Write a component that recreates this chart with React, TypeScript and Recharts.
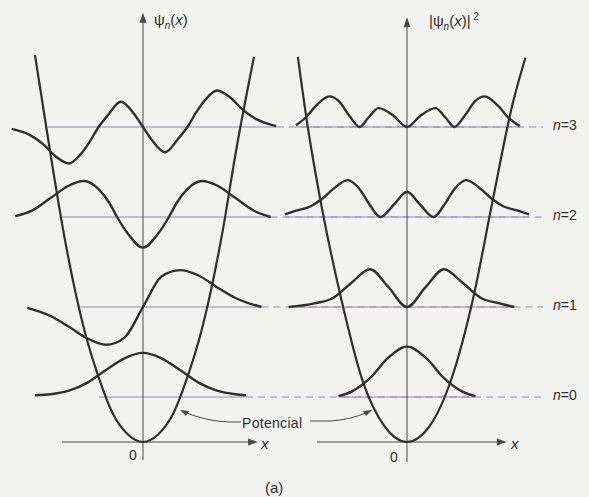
import React from 'react';
import { LineChart, Line, XAxis, YAxis, ReferenceDot } from 'recharts';

// ---- energy levels (units of hbar*omega) ----
const levels = [0.5, 1.5, 2.5, 3.5];
const levelLabels = ['0', '1', '2', '3'];

// ---- left panel: psi_n(x) (x in oscillator units, value in hbar*omega units) ----
const psi0X = [-2.92, -2.5, -2.0, -1.5, -1.0, -0.5, 0, 0.5, 1.0, 1.5, 2.0, 2.5, 2.78];
const psi0V = [0.02, 0.03, 0.07, 0.16, 0.3, 0.43, 0.49, 0.43, 0.3, 0.16, 0.07, 0.03, 0.02];

const psi1X = [-3.13, -2.5, -2.0, -1.5, -1.0, -0.5, 0, 0.5, 1.0, 1.5, 2.0, 2.5, 3.2];
const psi1V = [-0.01, -0.1, -0.22, -0.35, -0.42, -0.34, 0, 0.34, 0.41, 0.35, 0.22, 0.1, 0.0];

const psi2X = [-3.45, -3.0, -2.5, -2.0, -1.6, -1.2, -0.9, -0.7, -0.4, 0, 0.4, 0.7, 0.9, 1.2, 1.6, 2.0, 2.5, 3.0, 3.45];
const psi2V = [0.01, 0.07, 0.21, 0.35, 0.4, 0.31, 0.15, 0.0, -0.19, -0.34, -0.19, 0.0, 0.15, 0.31, 0.4, 0.35, 0.21, 0.07, 0.0];

const psi3X = [-3.55, -3.05, -2.7, -2.35, -2.0, -1.7, -1.45, -1.2, -0.95, -0.6, -0.25, 0, 0.25, 0.6, 0.95, 1.2, 1.45, 1.7, 2.0, 2.35, 2.7, 3.05, 3.6];
const psi3V = [-0.02, -0.09, -0.19, -0.33, -0.405, -0.31, -0.17, 0, 0.13, 0.28, 0.15, 0, -0.15, -0.28, -0.13, 0, 0.17, 0.31, 0.405, 0.33, 0.19, 0.09, 0.01];

// ---- right panel: |psi_n(x)|^2 ----
const prob0X = [-1.85, -1.5, -1.0, -0.5, 0, 0.5, 1.0, 1.5, 1.85];
const prob0V = [0.01, 0.06, 0.21, 0.44, 0.56, 0.44, 0.21, 0.06, 0.01];

const prob1X = [-3.2, -2.5, -2.0, -1.5, -1.0, -0.5, 0, 0.5, 1.0, 1.5, 2.0, 2.5, 2.9];
const prob1V = [0.0, 0.04, 0.1, 0.27, 0.42, 0.22, 0, 0.22, 0.42, 0.27, 0.1, 0.04, 0.0];

const prob2X = [-3.3, -3.0, -2.6, -2.3, -2.0, -1.6, -1.3, -1.0, -0.72, -0.35, 0, 0.35, 0.72, 1.0, 1.3, 1.6, 2.0, 2.3, 2.6, 3.0, 3.3];
const prob2V = [0.03, 0.07, 0.12, 0.2, 0.31, 0.41, 0.32, 0.13, 0, 0.14, 0.28, 0.14, 0, 0.13, 0.32, 0.41, 0.31, 0.2, 0.12, 0.07, 0.03];

const prob3X = [-3.0, -2.75, -2.45, -2.1, -1.85, -1.55, -1.28, -1.05, -0.77, -0.35, 0, 0.35, 0.77, 1.05, 1.28, 1.55, 1.85, 2.1, 2.45, 2.75, 3.05];
const prob3V = [0.02, 0.1, 0.24, 0.34, 0.29, 0.12, 0, 0.1, 0.21, 0.12, 0, 0.12, 0.21, 0.1, 0, 0.12, 0.29, 0.34, 0.24, 0.1, 0.01];

// ---- potentials ----
const potLX = [-2.92, -2.5, -2.16, -1.57, -1.24, -0.81, -0.4, 0, 0.4, 0.81, 1.24, 1.57, 2.16, 2.5, 3.0];
const potLV = [4.3, 3.2, 2.36, 1.22, 0.77, 0.31, 0.08, 0, 0.08, 0.31, 0.77, 1.22, 2.36, 3.2, 4.28];
const potRX = [-2.95, -2.7, -2.3, -1.8, -1.2, -0.6, 0, 0.6, 1.2, 1.8, 2.3, 2.85, 3.2];
const potRV = [4.28, 3.55, 2.6, 1.63, 0.68, 0.17, 0, 0.17, 0.7, 1.62, 2.65, 3.75, 4.27];

// ---- level-line extents (local x) ----
const leftSolidStart = [-1.2, -1.7, -2.19, -2.57];
const leftCurveEnd = [2.78, 3.2, 3.45, 3.62];
const rightCurveStart = [-1.85, -3.2, -3.3, -3.0];
const rightCurveEnd = [1.85, 2.9, 3.3, 3.05];
const labelStart = 10.81;

// ---- layout ----
const PXU = 37; // px per x unit
const CHART_W = 589;
const CHART_H = 495;
const LEFT_AXIS_PX = 143;
const RIGHT_OFFSET = (407 - 143) / PXU;
const X_DOMAIN: [number, number] = [-LEFT_AXIS_PX / PXU, (CHART_W - LEFT_AXIS_PX) / PXU];
const Y_DOMAIN: [number, number] = [-0.6, 4.9];

const INK = '#2f2f2f';
const AXIS = '#4a4a4a';
const LEVEL = '#948aa8';
const FONT = '"Liberation Sans", Arial, sans-serif';

type Pt = { x: number; y: number };
const series = (xs: number[], vs: number[], base: number, off = 0): Pt[] =>
  xs.map((x, i) => ({ x: x + off, y: base + vs[i] }));
const seg = (x1: number, x2: number, y1: number, y2: number = y1): Pt[] => [
  { x: x1, y: y1 },
  { x: x2, y: y2 },
];

const leftCurves = [
  series(psi0X, psi0V, levels[0]),
  series(psi1X, psi1V, levels[1]),
  series(psi2X, psi2V, levels[2]),
  series(psi3X, psi3V, levels[3]),
];
const rightCurves = [
  series(prob0X, prob0V, levels[0], RIGHT_OFFSET),
  series(prob1X, prob1V, levels[1], RIGHT_OFFSET),
  series(prob2X, prob2V, levels[2], RIGHT_OFFSET),
  series(prob3X, prob3V, levels[3], RIGHT_OFFSET),
];

const UpArrow = (p: any) => (
  <polygon
    points={`${p.cx},${p.cy} ${p.cx - 3.5},${p.cy + 10} ${p.cx + 3.5},${p.cy + 10}`}
    fill={AXIS}
  />
);
const RightArrow = (p: any) => (
  <polygon
    points={`${p.cx},${p.cy} ${p.cx - 10},${p.cy - 3.5} ${p.cx - 10},${p.cy + 3.5}`}
    fill={AXIS}
  />
);

const lineProps = {
  dataKey: 'y',
  dot: false,
  activeDot: false,
  isAnimationActive: false,
  legendType: 'none' as const,
};

const txt = (style: React.CSSProperties): React.CSSProperties => ({
  position: 'absolute',
  fontFamily: FONT,
  color: '#2e2e2e',
  lineHeight: 1,
  whiteSpace: 'nowrap',
  ...style,
});

export default function App() {
  return (
    <div
      style={{
        position: 'absolute',
        left: 0,
        top: 0,
        width: 589,
        height: 497,
        background: '#f2f2f0',
        overflow: 'hidden',
      }}
    >
      <div style={{ position: 'absolute', left: 0, top: 1 }}>
        <LineChart width={CHART_W} height={CHART_H} margin={{ top: 0, right: 0, bottom: 0, left: 0 }}>
          <XAxis type="number" dataKey="x" domain={X_DOMAIN} hide allowDataOverflow />
          <YAxis type="number" dataKey="y" domain={Y_DOMAIN} hide allowDataOverflow />

          {/* level lines */}
          {levels.map((lv, i) => (
            <Line
              key={`dash${i}`}
              {...lineProps}
              type="linear"
              data={seg(leftCurveEnd[i], labelStart, lv)}
              stroke={LEVEL}
              strokeWidth={1}
              strokeDasharray="7 5"
            />
          ))}
          {levels.map((lv, i) => (
            <Line
              key={`lsolid${i}`}
              {...lineProps}
              type="linear"
              data={seg(leftSolidStart[i], leftCurveEnd[i], lv)}
              stroke={LEVEL}
              strokeWidth={1}
            />
          ))}
          {levels.map((lv, i) => (
            <Line
              key={`rsolid${i}`}
              {...lineProps}
              type="linear"
              data={seg(rightCurveStart[i] + RIGHT_OFFSET, rightCurveEnd[i] + RIGHT_OFFSET, lv)}
              stroke={LEVEL}
              strokeWidth={1}
            />
          ))}

          {/* axes */}
          <Line key="lyax" {...lineProps} type="linear" data={seg(0, 0, -0.2, 4.7)} stroke={AXIS} strokeWidth={1} />
          <Line key="lxax" {...lineProps} type="linear" data={seg(-2.19, 3.05, 0)} stroke={AXIS} strokeWidth={1} />
          <Line
            key="ryax"
            {...lineProps}
            type="linear"
            data={seg(RIGHT_OFFSET, RIGHT_OFFSET, -0.22, 4.65)}
            stroke={AXIS}
            strokeWidth={1}
          />
          <Line
            key="rxax"
            {...lineProps}
            type="linear"
            data={seg(-2.43 + RIGHT_OFFSET, 2.64 + RIGHT_OFFSET, 0)}
            stroke={AXIS}
            strokeWidth={1}
          />

          {/* potentials */}
          <Line key="potL" {...lineProps} type="monotone" data={series(potLX, potLV, 0)} stroke={INK} strokeWidth={2.2} />
          <Line
            key="potR"
            {...lineProps}
            type="monotone"
            data={series(potRX, potRV, 0, RIGHT_OFFSET)}
            stroke={INK}
            strokeWidth={2.2}
          />

          {/* wavefunctions */}
          {leftCurves.map((d, i) => (
            <Line key={`psi${i}`} {...lineProps} type="monotone" data={d} stroke={INK} strokeWidth={2.4} />
          ))}
          {rightCurves.map((d, i) => (
            <Line key={`prob${i}`} {...lineProps} type="monotone" data={d} stroke={INK} strokeWidth={2.4} />
          ))}

          <ReferenceDot x={0} y={4.77} r={0} shape={UpArrow} ifOverflow="visible" />
          <ReferenceDot x={3.11} y={0} r={0} shape={RightArrow} ifOverflow="visible" />
          <ReferenceDot x={RIGHT_OFFSET} y={4.72} r={0} shape={UpArrow} ifOverflow="visible" />
          <ReferenceDot x={2.7 + RIGHT_OFFSET} y={0} r={0} shape={RightArrow} ifOverflow="visible" />
        </LineChart>
      </div>

      {/* Potencial leader arrows */}
      <svg width={589} height={497} style={{ position: 'absolute', left: 0, top: 0, pointerEvents: 'none' }}>
        <path d="M 241 422 L 228 422 Q 206 421 184 412" fill="none" stroke={AXIS} strokeWidth={1} />
        <polygon points="180,410 189,411 186,416" fill={AXIS} />
        <path d="M 310 421 L 330 421 Q 350 420 368 412" fill="none" stroke={AXIS} strokeWidth={1} />
        <polygon points="372,410 363,411 366,416" fill={AXIS} />
      </svg>

      {/* texts */}
      <div style={txt({ left: 154, top: 12, fontSize: 15 })}>
        ψ<sub style={{ fontSize: 10, verticalAlign: 'sub', fontStyle: 'italic' }}>n</sub>(<i>x</i>)
      </div>
      <div style={txt({ left: 429, top: 12, fontSize: 15 })}>
        |ψ<sub style={{ fontSize: 10, verticalAlign: 'sub', fontStyle: 'italic' }}>n</sub>(<i>x</i>)|
        <sup style={{ fontSize: 10, verticalAlign: 'super' }}> 2</sup>
      </div>
      {levelLabels.map((l, i) => (
        <div key={l} style={txt({ left: 553, top: 441 - levels[i] * 90 - 8, fontSize: 14 })}>
          <i>n</i>={l}
        </div>
      ))}
      <div style={txt({ left: 242, top: 416, fontSize: 14, letterSpacing: 0.3 })}>Potencial</div>
      <div style={txt({ left: 129, top: 448, fontSize: 14 })}>0</div>
      <div style={txt({ left: 390, top: 450, fontSize: 14 })}>0</div>
      <div style={txt({ left: 261, top: 436, fontSize: 15, fontStyle: 'italic' })}>x</div>
      <div style={txt({ left: 511, top: 436, fontSize: 15, fontStyle: 'italic' })}>x</div>
      <div style={txt({ left: 265, top: 480, fontSize: 15 })}>(a)</div>
    </div>
  );
}
